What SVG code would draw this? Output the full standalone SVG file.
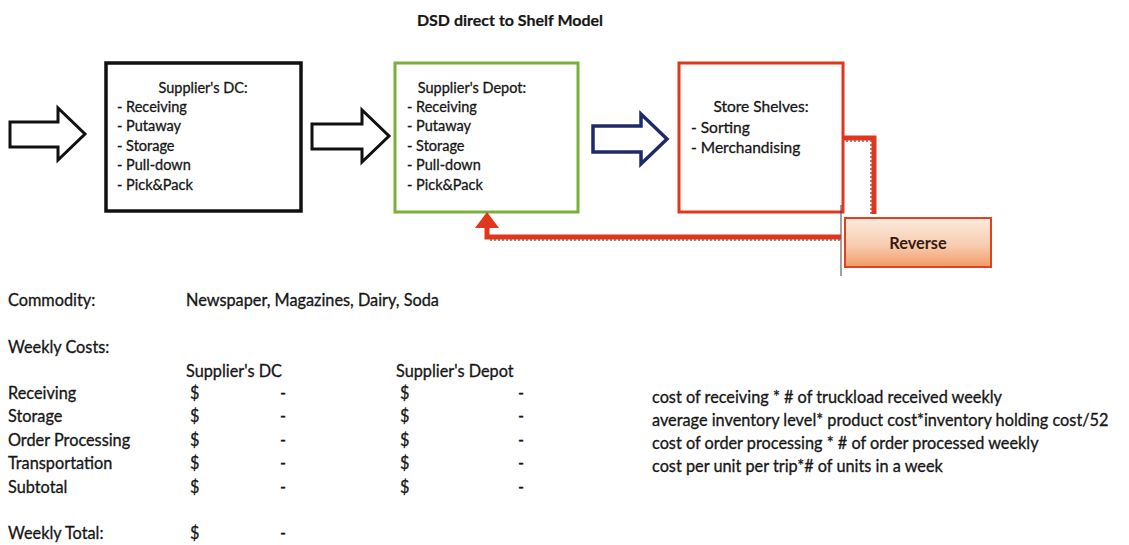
<svg xmlns="http://www.w3.org/2000/svg" width="1129" height="545" viewBox="0 0 1129 545">
  <defs>
    <style>
      text { font-family: Lato, "Open Sans", "Liberation Sans", sans-serif; fill: #161616; stroke: #161616; stroke-width: 0.3; }
      .title { font-size: 16px; font-weight: bold; stroke-width: 0.2; }
      .box-text { font-size: 14.5px; }
      .box-text.large { font-size: 15.5px; }
      .label { font-size: 16.3px; }
      .bold { font-weight: bold; }
      .block-arrow { fill: #ffffff; stroke: #111111; stroke-width: 3; stroke-linejoin: miter; }
      .block-arrow.navy { stroke: #1f2a6b; stroke-width: 3.5; }
      .flow { fill: none; stroke: #e2361c; stroke-width: 5; stroke-linejoin: miter; }
      .flow-shadow { fill: none; stroke: #5a2a20; stroke-width: 2; stroke-dasharray: 2 2; opacity: 0.55; }
    </style>
    <linearGradient id="reverseFill" x1="0" y1="0" x2="0" y2="1">
      <stop offset="0" stop-color="#fbeadf"/>
      <stop offset="0.55" stop-color="#f7cdb0"/>
      <stop offset="1" stop-color="#f19a66"/>
    </linearGradient>
  </defs>

  <rect width="1129" height="545" fill="#ffffff"/>

  <text class="title" x="510" y="26" text-anchor="middle">DSD direct to Shelf Model</text>

  <!-- Inbound block arrow -->
  <g id="arrow-in">
    <polygon class="block-arrow" points="10,122 58,122 58,108 85,134 58,160 58,147 10,147"/>
  </g>

  <!-- Supplier's DC -->
  <g id="node-dc">
    <rect x="106" y="63" width="195" height="148" fill="#ffffff" stroke="#111111" stroke-width="3.5"/>
    <text class="box-text" x="203" y="93" text-anchor="middle">Supplier's DC:</text>
    <text class="box-text" x="117" y="112">- Receiving</text>
    <text class="box-text" x="117" y="131">- Putaway</text>
    <text class="box-text" x="117" y="151">- Storage</text>
    <text class="box-text" x="117" y="170">- Pull-down</text>
    <text class="box-text" x="117" y="190">- Pick&amp;Pack</text>
  </g>

  <!-- DC to Depot block arrow -->
  <g id="arrow-dc-depot">
    <polygon class="block-arrow" points="312,124 362,124 362,110 389,136 362,162 362,149 312,149"/>
  </g>

  <!-- Supplier's Depot -->
  <g id="node-depot">
    <rect x="395" y="63" width="183" height="149" fill="#ffffff" stroke="#78b03a" stroke-width="3"/>
    <text class="box-text" x="472" y="93" text-anchor="middle">Supplier's Depot:</text>
    <text class="box-text" x="407" y="112">- Receiving</text>
    <text class="box-text" x="407" y="131">- Putaway</text>
    <text class="box-text" x="407" y="151">- Storage</text>
    <text class="box-text" x="407" y="170">- Pull-down</text>
    <text class="box-text" x="407" y="190">- Pick&amp;Pack</text>
  </g>

  <!-- Depot to Shelves block arrow -->
  <g id="arrow-depot-shelves">
    <polygon class="block-arrow navy" points="593,126 641,126 641,114 667,139 641,164 641,152 593,152"/>
  </g>

  <!-- Store Shelves -->
  <g id="node-shelves">
    <rect x="679" y="63" width="164" height="149" fill="#ffffff" stroke="#e2361c" stroke-width="3"/>
    <text class="box-text large" x="761" y="112" text-anchor="middle">Store Shelves:</text>
    <text class="box-text large" x="691" y="133">- Sorting</text>
    <text class="box-text large" x="691" y="153">- Merchandising</text>
  </g>

  <!-- Reverse -->
  <g id="node-reverse">
    <rect x="845" y="218" width="146" height="49" fill="url(#reverseFill)" stroke="#e2401f" stroke-width="2"/>
    <text class="label bold" x="918" y="249" text-anchor="middle" style="fill:#3a1a10;stroke:none">Reverse</text>
  </g>

  <!-- Reverse-flow connectors -->
  <g id="connectors">
    <line x1="841" y1="205" x2="841" y2="276" stroke="#444444" stroke-width="1"/>
    <polyline class="flow-shadow" points="846,141 871,141 871,214"/>
    <polyline class="flow" points="843,138 874,138 874,214"/>
    <polyline class="flow-shadow" points="840,240 490,240"/>
    <polyline class="flow" points="841,237 487,237 487,226"/>
    <polygon points="487,212 475,228 499,228" fill="#e2361c"/>
  </g>

  <!-- Cost table -->
  <g id="cost-table" class="label">
    <text x="8" y="306">Commodity:</text>
    <text x="186" y="306">Newspaper, Magazines, Dairy, Soda</text>
    <text x="8" y="353">Weekly Costs:</text>
    <text x="186" y="377">Supplier's DC</text>
    <text x="396" y="377">Supplier's Depot</text>

    <text x="8" y="399">Receiving</text>
    <text x="8" y="422">Storage</text>
    <text x="8" y="446">Order Processing</text>
    <text x="8" y="469">Transportation</text>
    <text x="8" y="493">Subtotal</text>
    <text x="8" y="539">Weekly Total:</text>

    <text x="190" y="399">$</text><text x="280" y="399">-</text>
    <text x="190" y="422">$</text><text x="280" y="422">-</text>
    <text x="190" y="446">$</text><text x="280" y="446">-</text>
    <text x="190" y="469">$</text><text x="280" y="469">-</text>
    <text x="190" y="493">$</text><text x="280" y="493">-</text>
    <text x="190" y="539">$</text><text x="280" y="539">-</text>

    <text x="400" y="399">$</text><text x="518" y="399">-</text>
    <text x="400" y="422">$</text><text x="518" y="422">-</text>
    <text x="400" y="446">$</text><text x="518" y="446">-</text>
    <text x="400" y="469">$</text><text x="518" y="469">-</text>
    <text x="400" y="493">$</text><text x="518" y="493">-</text>

    <text x="652" y="403">cost of receiving * # of truckload received weekly</text>
    <text x="652" y="426">average inventory level* product cost*inventory holding cost/52</text>
    <text x="652" y="449">cost of order processing * # of order processed weekly</text>
    <text x="652" y="472">cost per unit per trip*# of units in a week</text>
  </g>
</svg>
